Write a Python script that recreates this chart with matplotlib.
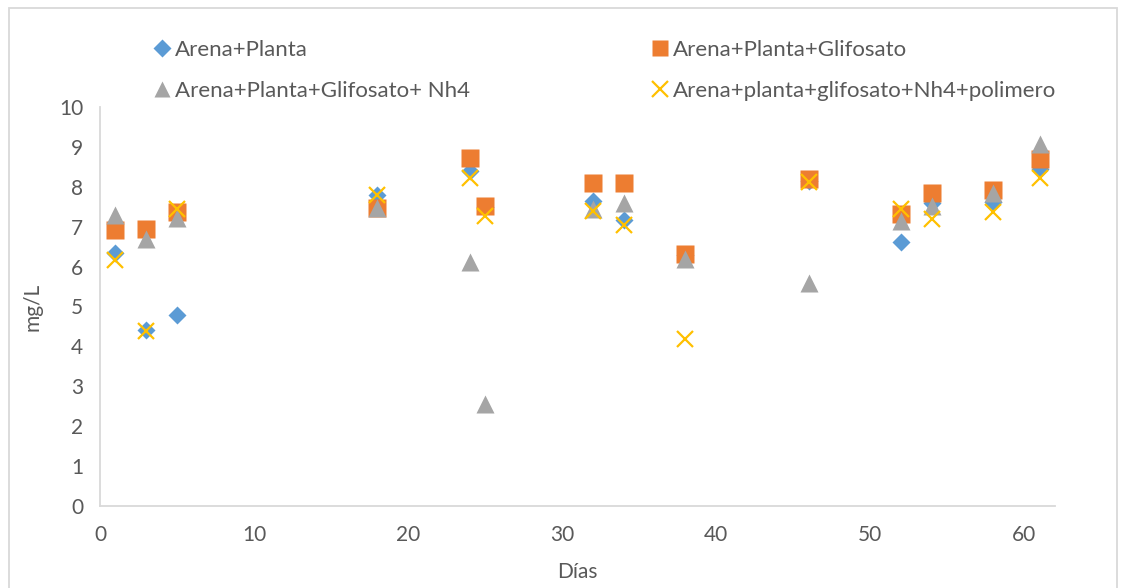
import matplotlib.pyplot as plt
from matplotlib.patches import Rectangle
from matplotlib.lines import Line2D

plt.rcParams['font.family'] = ['Lato', 'DejaVu Sans']

dias = [1, 3, 5, 18, 24, 25, 32, 34, 38, 46, 52, 54, 58, 61]

arena_planta = [6.35, 4.4, 4.78, 7.79, 8.4, 7.5, 7.65, 7.17, 6.3, 8.15, 6.62, 7.6, 7.62, 8.45]
glifosato = [6.92, 6.95, 7.37, 7.47, 8.72, 7.52, 8.1, 8.1, 6.32, 8.2, 7.32, 7.84, 7.92, 8.7]
glifosato_nh4 = [7.3, 6.7, 7.22, 7.47, 6.12, 2.55, 7.44, 7.6, 6.2, 5.6, 7.15, 7.52, 7.85, 9.08]
polimero = [6.17, 4.38, 7.44, 7.8, 8.22, 7.27, 7.39, 7.04, 4.18, 8.12, 7.44, 7.2, 7.37, 8.22]

labels = ["Arena+Planta", "Arena+Planta+Glifosato",
          "Arena+Planta+Glifosato+ Nh4", "Arena+planta+glifosato+Nh4+polimero"]

azul = "#5B9BD5"
naranja = "#ED7D31"
gris = "#A5A5A5"
amarillo = "#FFC000"
texto = "#595959"

fig = plt.figure(figsize=(11.25, 5.88), dpi=100)
ax = fig.add_axes([100/1125, 82/588, 955/1125, 399/588])

ax.plot(dias, arena_planta, 'D', color=azul, ms=9.2, mec='none')
ax.plot(dias, glifosato, 's', color=naranja, ms=13, mec='none')
ax.plot(dias, glifosato_nh4, '^', color=gris, ms=13, mec='none')
ax.plot(dias, polimero, 'x', color=amarillo, ms=12, mew=1.6)

ax.set_xlim(0, 62)
ax.set_ylim(0, 10)
ax.set_xticks(range(0, 61, 10))
ax.set_yticks(range(0, 11))
ax.tick_params(length=0, labelsize=15, colors=texto)
ax.tick_params(axis='x', pad=14)
ax.tick_params(axis='y', pad=12)
for s in ['top', 'right']:
    ax.spines[s].set_visible(False)
for s in ['left', 'bottom']:
    ax.spines[s].set_color('#D9D9D9')
    ax.spines[s].set_linewidth(1.3)

ax.set_xlabel("Días", fontsize=15, color=texto, labelpad=12)
ax.set_ylabel("mg/L", fontsize=15, color=texto, labelpad=12)

# leyenda en dos bloques
h_d = Line2D([], [], ls='none', marker='D', color=azul, ms=9, mec='none')
h_s = Line2D([], [], ls='none', marker='s', color=naranja, ms=12, mec='none')
h_t = Line2D([], [], ls='none', marker='^', color=gris, ms=12, mec='none')
h_x = Line2D([], [], ls='none', marker='x', color=amarillo, ms=11, mew=1.6)

leg_kw = dict(frameon=False, fontsize=16, labelcolor=texto, handlelength=0.7,
              handletextpad=0.25, labelspacing=0.95, borderpad=0, loc='upper left')
l1 = fig.legend([h_d, h_t], [labels[0], labels[2]],
                bbox_to_anchor=(143/1125, 1 - 29/588), **leg_kw)
l2 = fig.legend([h_s, h_x], [labels[1], labels[3]],
                bbox_to_anchor=(641/1125, 1 - 29/588), **leg_kw)

fig.patches.append(Rectangle((9/1125, -0.05), 1108/1125, 1 - 8/588 + 0.05,
                             transform=fig.transFigure, fill=False,
                             edgecolor='#D9D9D9', lw=1.3))

fig.savefig("out.png", dpi=100)
